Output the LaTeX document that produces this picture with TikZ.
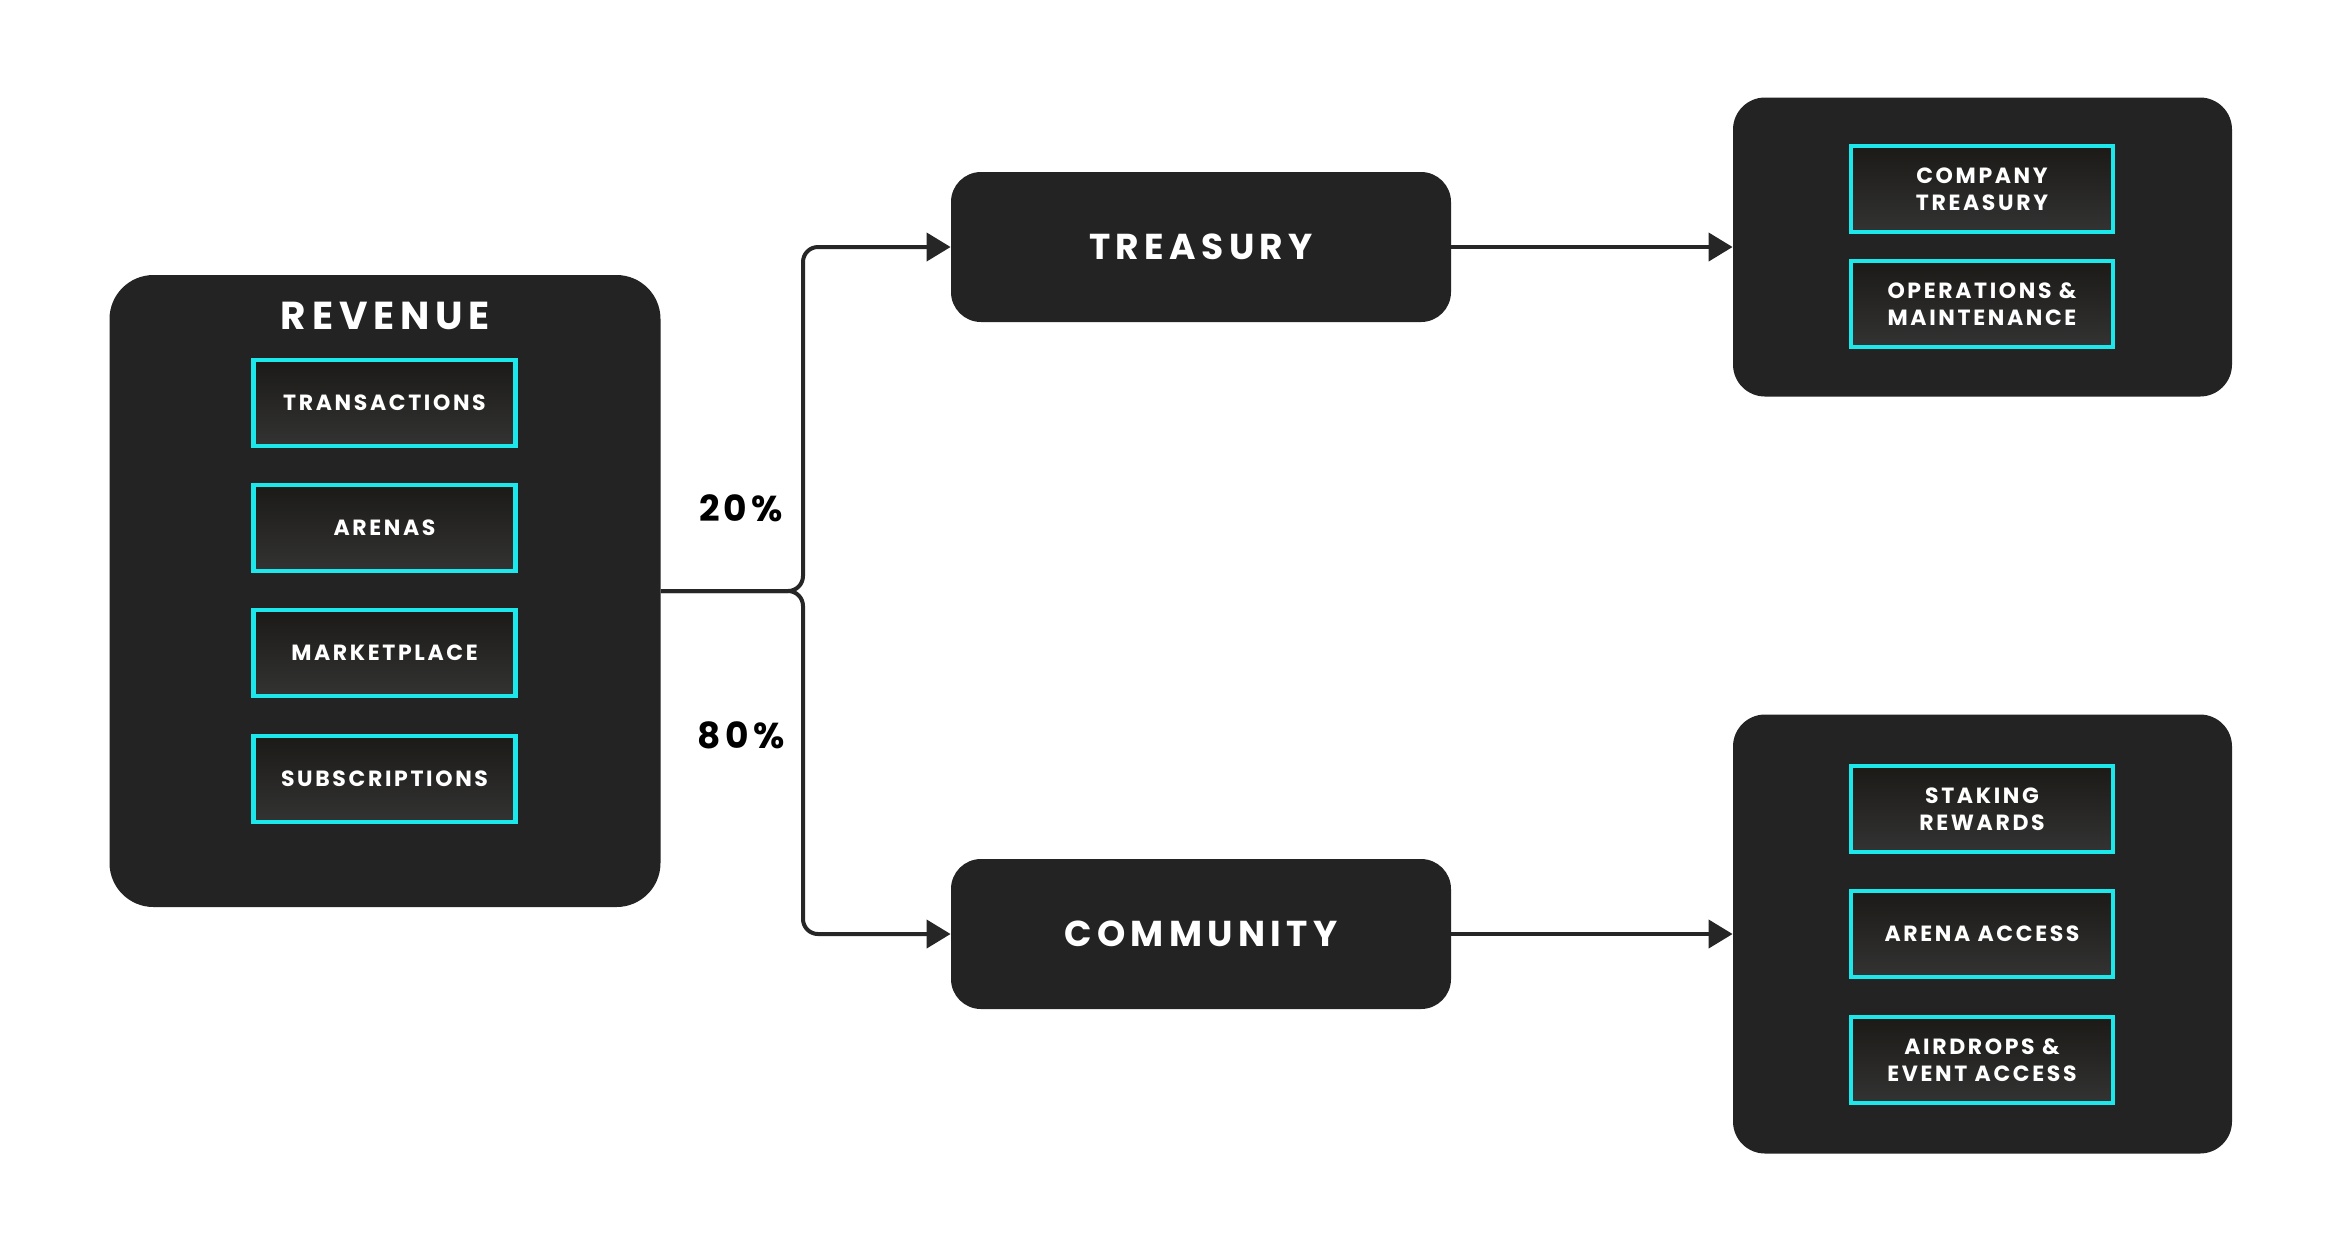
\documentclass[tikz,border=0pt]{standalone}
\usepackage{fontspec}
\setmainfont{Poppins}
\newfontfamily\tagfont{Poppins}[LetterSpace=12]
\newfontfamily\stagefont{Poppins}[LetterSpace=15]
\usetikzlibrary{arrows.meta,positioning}
\definecolor{boxdark}{HTML}{232323}
\definecolor{linedark}{HTML}{262626}
\definecolor{accentcyan}{HTML}{1CE8EC}
\definecolor{innertop}{HTML}{1B1A17}
\definecolor{innerbot}{HTML}{333333}

\tikzset{
  panel/.style={fill=boxdark, rounded corners=16pt, inner sep=0pt},
  stage/.style={panel, rounded corners=15pt, minimum width=250pt, minimum height=75pt,
    text=white, font=\stagefont\bfseries\fontsize{18}{20}\selectfont},
  tile/.style={top color=innertop, bottom color=innerbot, draw=accentcyan, line width=2.3pt,
    minimum width=131pt, minimum height=43pt, inner sep=0pt, align=center, text=white,
    font=\tagfont\bfseries\fontsize{11}{13.3}\selectfont},
  flow/.style={line width=2pt, draw=linedark, rounded corners=7.5pt,
    -{Triangle[length=12pt,width=14pt]}},
  share/.style={text=black, font=\tagfont\bfseries\fontsize{18}{20}\selectfont},
}

\begin{document}
\begin{tikzpicture}[x=0.5pt, y=-0.5pt]
            \fill[white] (0,0) rectangle (2342,1250);
            \useasboundingbox (0,0) rectangle (2342,1250);

            % Ingresos
            \node[panel, rounded corners=22pt, minimum width=275.5pt, minimum height=316pt] (rev) at (385,591) {};
            \node[text=white, font=\stagefont\bfseries\fontsize{19.5}{20}\selectfont] (revtitle) at (385.5,316) {REVENUE};
            \foreach \y/\name/\txt in {403/src1/TRANSACTIONS, 528/src2/ARENAS, 653/src3/MARKETPLACE, 779/src4/SUBSCRIPTIONS} {
                \node[tile] (\name) at (384.5,\y) {\txt};
            }

            % Destinos
            \node[stage] (tre) at (1201,247) {TREASURY};
            \node[stage] (com) at (1201,934) {COMMUNITY};

            % Paneles de salida
            \node[panel, minimum width=249.5pt, minimum height=149.5pt] (treout) at (1982.5,247) {};
            \node[panel, minimum width=249.5pt, minimum height=219.5pt] (comout) at (1982.5,934) {};
            \foreach \y/\name/\txt in {189/use1/{COMPANY\\TREASURY}, 304/use2/{OPERATIONS \&\\MAINTENANCE}} {
                \node[tile] (\name) at (1982,\y) {\txt};
            }
            \foreach \y/\name/\txt in {809/gain1/{STAKING\\REWARDS}, 934/gain2/{ARENA ACCESS}, 1060/gain3/{AIRDROPS \&\\EVENT ACCESS}} {
                \node[tile] (\name) at (1982,\y) {\txt};
            }

            % Reparto
            \coordinate (fork) at (803,591);
            \draw[flow] (rev.east) -- (fork) |- (tre.west);
            \draw[flow] (rev.east) -- (fork) |- (com.west);
            \draw[flow] (tre.east) -- (treout.west);
            \draw[flow] (com.east) -- (comout.west);

            % Porcentajes
            \node[share] (cut1) at (741,508) {20\%};
            \node[share] (cut2) at (741,735) {80\%};
        \end{tikzpicture}
\end{document}
